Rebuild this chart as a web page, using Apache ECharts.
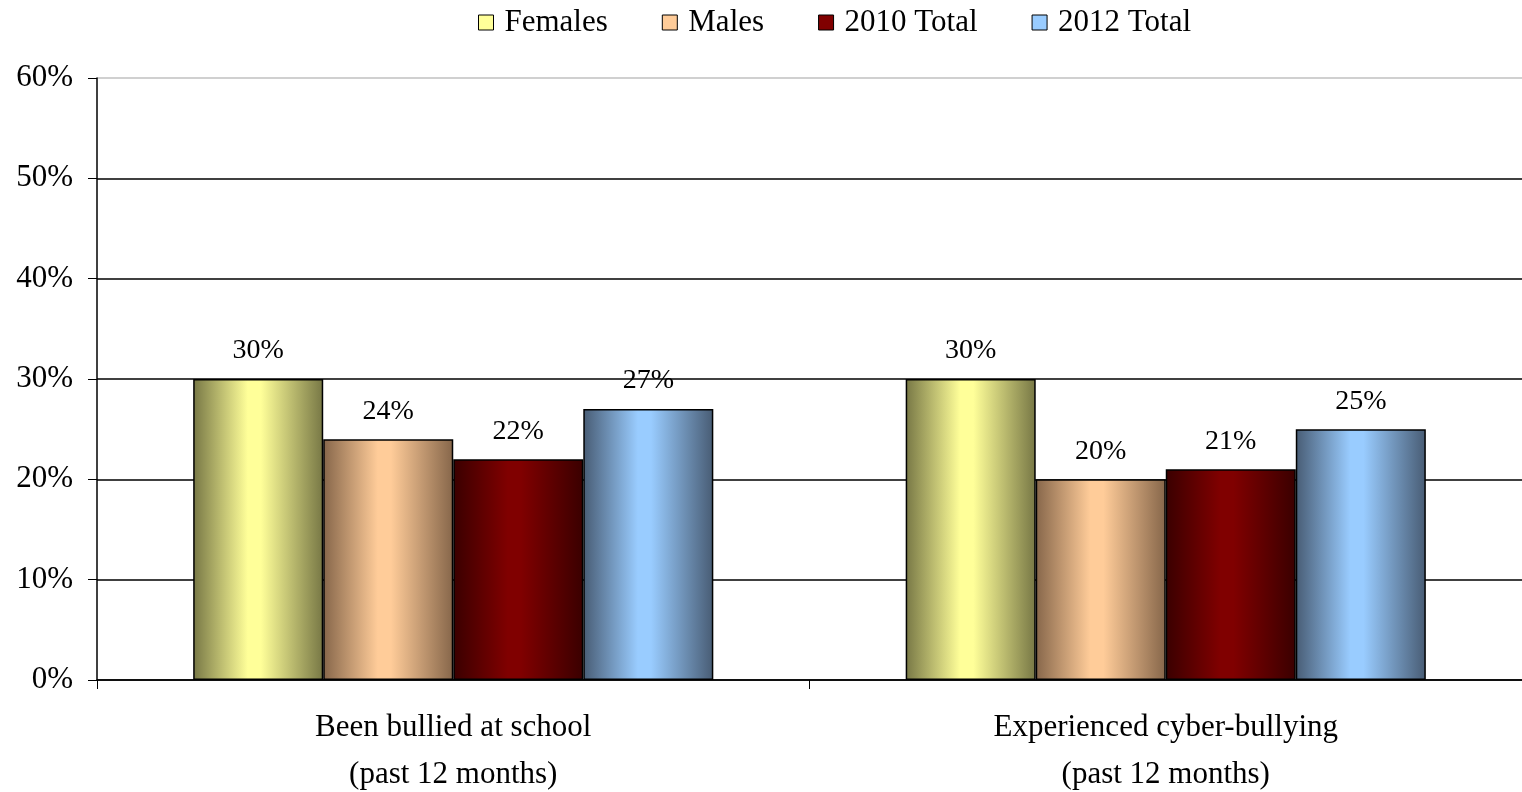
<!DOCTYPE html>
<html><head><meta charset="utf-8">
<script src="https://cdn.jsdelivr.net/npm/echarts@6/dist/echarts.min.js"></script>
<style>html,body{margin:0;padding:0;background:#fff}#c{width:1522px;height:792px}</style>
</head><body><div id="c"></div>
<script>
const categories = ['Been bullied at school\n(past 12 months)', 'Experienced cyber-bullying\n(past 12 months)'];
const seriesNames = ['Females', 'Males', '2010 Total', '2012 Total'];
const females = [30, 30];
const males = [24, 20];
const total2010 = [22, 21];
const total2012 = [27, 25];
const yTicks = [0, 10, 20, 30, 40, 50, 60];

const palettes = [
  ['#777745', '#ffff99'],
  ['#86664a', '#ffcc99'],
  ['#3a0000', '#800000'],
  ['#485c74', '#99ccff']
];
function grad(p) {
  return new echarts.graphic.LinearGradient(0, 0, 1, 0, [
    {offset: 0, color: p[0]},
    {offset: 0.42, color: p[1]},
    {offset: 0.52, color: p[1]},
    {offset: 1, color: p[0]}
  ]);
}
const font = '"Liberation Serif", "Times New Roman", serif';
const values = [females, males, total2010, total2012];
const chart = echarts.init(document.getElementById('c'));
chart.setOption({
  animation: false,
  textStyle: {fontFamily: font},
  legend: {
    top: 2, left: 473,
    itemWidth: 15, itemHeight: 15, itemGap: 54,
    textStyle: {fontFamily: font, fontSize: 31, color: '#000', padding: [0, 0, 0, 6]},
    data: seriesNames.map((n, i) => ({name: n, icon: 'rect', itemStyle: {color: palettes[i][1], borderColor: '#000', borderWidth: 1}}))
  },
  grid: {left: 97, right: 0, top: 78, bottom: 112, outerBoundsMode: 'none', containLabel: false},
  xAxis: {
    type: 'category', data: categories,
    axisLine: {lineStyle: {color: '#000', width: 1.5}},
    axisTick: {show: true, length: 9, lineStyle: {color: '#000'}},
    axisLabel: {fontFamily: font, fontSize: 31, color: '#000', lineHeight: 47, margin: 24}
  },
  yAxis: {
    type: 'value', min: yTicks[0], max: yTicks[yTicks.length - 1], interval: 10,
    axisLine: {show: true, lineStyle: {color: '#000', width: 1.5}},
    axisTick: {show: true, length: 9, lineStyle: {color: '#000'}},
    axisLabel: {fontFamily: font, fontSize: 31, color: '#000', margin: 24, formatter: v => v + '%'},
    splitLine: {lineStyle: {color: ['#000', '#000', '#000', '#000', '#000', '#000', '#c0c0c0'], width: 1.5}}
  },
  series: seriesNames.map((n, i) => ({
    name: n, type: 'bar', data: values[i],
    barGap: '0%', barCategoryGap: '27%',
    itemStyle: {color: grad(palettes[i]), borderColor: '#000', borderWidth: 1.5},
    label: {show: true, position: 'top', distance: 14, fontFamily: font, fontSize: 28, color: '#000', formatter: p => p.value + '%'}
  }))
});
</script></body></html>
